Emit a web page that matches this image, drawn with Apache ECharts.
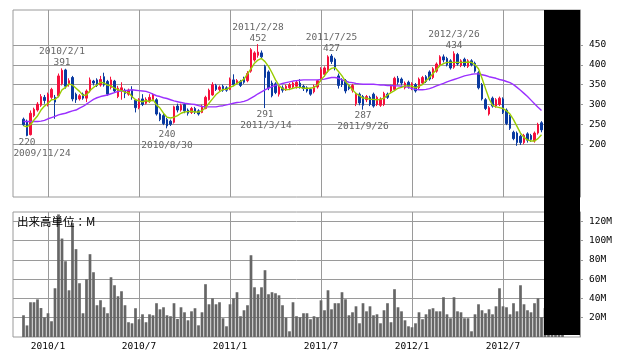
<!DOCTYPE html>
<html><head><meta charset="utf-8">
<script src="https://cdn.jsdelivr.net/npm/echarts@6/dist/echarts.min.js"></script>
<style>html,body{margin:0;padding:0;background:#fff}#c{width:638px;height:362px}</style>
</head><body><div id="c"></div>
<script>
// ---- weekly categories ----
const firstWeekUTC = Date.UTC(2009, 9, 26); // week of 2009/10/26
const weekCount = 163;                      // through week of 2012/12/3
const dataStart = 3;                        // first candle: week of 2009/11/16

// ---- weekly OHLC (index dataStart .. ) ----
const open = [
 263,258,224,272,286,298,318,300,318,318,
 322,352,387,352,368,326,314,326,316,334,
 359,362,349,370,358,343,359,320,336,336,
 326,336,311,292,314,303,310,312,312,276,
 272,262,258,255,296,286,300,286,280,290,
 284,280,290,312,324,348,338,346,342,338,
 362,354,358,366,360,384,412,424,430,396,
 382,354,352,326,342,340,342,344,346,354,
 346,342,338,332,344,362,376,384,422,414,
 372,362,360,348,336,302,326,320,312,318,
 326,300,298,300,326,334,338,366,364,342,
 356,342,350,342,354,370,382,368,384,400,
 420,416,410,394,426,398,414,396,410,404,
 380,350,312,276,316,296,300,314,286,270,
 230,228,220,204,226,222,208,228,254];
const close = [
 249,222,278,288,301,320,310,326,338,306,
 372,386,346,360,314,312,322,316,334,362,
 354,348,363,349,326,362,334,341,342,328,
 336,318,292,312,300,313,318,324,276,262,
 252,246,250,294,286,298,284,278,290,282,
 276,296,318,336,350,338,344,336,336,364,
 350,360,348,356,378,438,430,432,420,368,
 342,322,330,344,336,346,350,354,356,344,
 340,334,326,346,360,388,392,420,408,392,
 348,350,334,340,348,326,304,298,320,300,
 296,318,314,328,318,346,366,356,354,354,
 346,352,334,364,368,358,364,390,402,420,
 412,400,392,428,402,410,398,410,400,384,
 342,314,290,292,296,312,316,280,252,240,
 214,204,204,222,210,212,228,250,236];
const low = [
 246,220,222,268,282,294,302,295,314,264,
 318,348,340,345,308,304,310,312,306,330,
 348,344,345,345,322,338,330,316,312,316,
 322,312,280,288,296,300,304,308,272,258,
 248,240,246,252,280,282,278,272,276,276,
 272,278,288,310,322,334,334,332,332,336,
 346,350,344,352,356,380,408,418,414,291,
 336,318,326,320,330,334,336,340,340,340,
 334,330,322,328,340,358,370,380,402,386,
 340,344,328,336,330,296,298,287,306,296,
 292,296,294,296,314,330,334,350,348,338,
 340,336,330,338,350,354,360,364,380,396,
 406,396,388,390,398,394,394,392,396,380,
 338,310,286,272,292,292,296,276,248,236,
 210,196,198,200,204,206,204,224,230];
const high = [
 267,262,285,292,306,326,324,330,342,324,
 378,391,390,366,372,330,326,330,338,368,
 362,366,372,380,362,370,362,347,356,340,
 340,346,314,316,326,318,326,328,316,280,
 276,266,262,297,302,302,304,290,294,294,
 288,300,322,340,356,352,348,350,346,368,
 376,364,362,370,384,442,434,452,436,400,
 386,360,356,348,348,350,354,358,360,364,
 350,346,342,350,362,394,396,424,427,418,
 378,366,364,352,352,330,330,324,324,322,
 330,322,318,332,330,350,370,372,368,358,
 360,356,354,368,372,374,386,394,406,424,
 426,420,414,434,430,414,418,414,414,408,
 384,354,316,296,320,316,320,318,290,274,
 234,232,224,226,230,226,232,254,258];

// ---- moving averages ----
const ma13 = [
 246,244,249,261,271,286,296,303,312,313,
 320,337,343,352,349,341,333,323,324,335,
 343,349,356,354,349,347,341,337,335,331,
 330,320,312,309,307,310,307,312,299,291,
 278,268,266,268,272,278,281,282,283,281,
 281,284,292,303,314,325,332,338,338,343,
 347,353,358,364,377,390,404,412,416,408,
 396,380,362,348,340,337,338,341,343,343,
 341,341,341,343,349,362,372,385,391,393,
 383,372,358,347,337,328,322,316,316,313,
 313,312,313,316,324,330,335,341,343,347,
 347,346,342,346,350,360,368,378,388,398,
 403,406,406,406,406,406,406,407,406,400,
 390,366,340,315,298,294,292,290,284,276,
 262,245,228,217,211,208,208,214,224];
const ma26 = [
 257,257,257,257,257,258,260,264,267,270,
 274,276,278,281,284,286,291,295,301,307,
 313,317,320,322,324,327,330,333,334,335,
 336,337,336,335,334,333,330,326,322,320,
 317,315,312,309,307,305,303,302,301,300,
 297,295,294,294,294,294,296,297,299,301,
 303,305,306,308,311,316,321,327,332,337,
 341,345,348,350,353,355,357,359,360,361,
 362,362,362,362,362,363,364,366,368,368,
 366,362,359,356,355,353,352,351,351,351,
 351,350,349,349,348,348,347,347,346,345,
 343,340,338,337,337,338,340,343,347,350,
 353,357,360,363,366,369,372,374,376,377,
 377,375,373,370,368,366,363,361,358,355,
 350,343,336,328,320,311,302,293,285];

// ---- volume (millions) ----
const volume = [
 22.5,12,36,36,39,30,20.4,24.6,16.3,50.5,
 127,102,78.5,48.4,118,91,55.7,24.6,59.8,85.8,
 67.1,32.9,38.1,30.8,24.6,61.9,53.6,42.2,47.4,32.9,
 15.3,14.2,29.8,18.4,23.5,15.3,23.5,22.5,35,28.7,
 30.8,22.5,21.5,35,18.7,30.8,25.6,17.3,26.6,29.8,
 12.1,25.6,54.7,33.9,40.1,33.9,36,19.4,11.1,33.9,
 40.1,46.4,21.5,27.7,32.9,84.7,51.5,44.3,51.5,69.2,
 44.3,46.4,45.3,43.2,32.9,20.1,5.9,36,21.5,20.4,
 24.6,24.6,18.4,21.5,20.4,38,27.7,48.4,28.7,35,
 35,46.4,39.1,22.5,25.6,31.8,14.2,35,26.6,31.8,
 22.5,23.5,14.2,27.7,35,15.3,49.5,30.8,26.6,17.3,
 11.1,10.1,14.2,25.6,18.4,23.5,28.7,29.8,26.6,26.6,
 41.2,23.5,19.4,41.2,26.6,25.6,19.4,19.4,5.9,23.5,
 33.9,27.7,24.6,28.7,23.5,31.8,50.5,31.8,30.8,23.5,
 35,26.6,53.6,33.9,27.7,25.6,35,40.1,20.4,
 30,25,28,22,26,24];

// ---- ticks ----
const xTickWeeks  = ['2010/1/4','2010/7/5','2011/1/3','2011/7/4','2012/1/2','2012/7/2'];
const xTickLabels = ['2010/1','2010/7','2011/1','2011/7','2012/1','2012/7'];
const priceTicks  = [200,250,300,350,400,450];
const volumeTicks = [20,40,60,80,100,120];

// ---- high/low annotations ----
const notes = [
  {week:'2009/11/23', value:220, text:'2009/11/24', side:'low',  dx:15},
  {week:'2010/2/1',   value:391, text:'2010/2/1',   side:'high', dx:0},
  {week:'2010/8/30',  value:240, text:'2010/8/30',  side:'low',  dx:0},
  {week:'2011/2/28',  value:452, text:'2011/2/28',  side:'high', dx:0},
  {week:'2011/3/14',  value:291, text:'2011/3/14',  side:'low',  dx:1},
  {week:'2011/7/25',  value:427, text:'2011/7/25',  side:'high', dx:0},
  {week:'2011/9/26',  value:287, text:'2011/9/26',  side:'low',  dx:0},
  {week:'2012/3/26',  value:434, text:'2012/3/26',  side:'high', dx:0}
];

// ---- build ----
const categories = [];
for (let k = 0; k < weekCount; k++) {
  const d = new Date(firstWeekUTC + k * 7 * 86400000);
  categories.push(d.getUTCFullYear() + '/' + (d.getUTCMonth() + 1) + '/' + d.getUTCDate());
}
function pad(arr) {
  return categories.map((c, k) => {
    const j = k - dataStart;
    return (j >= 0 && j < arr.length) ? arr[j] : '-';
  });
}
const candleData = categories.map((c, k) => {
  const j = k - dataStart;
  return (j >= 0 && j < open.length) ? [open[j], close[j], low[j], high[j]] : ['-','-','-','-'];
});

const FONT = 'DejaVu Sans Mono';
const GRID_C = '#9a9a9a';
const isTick = (idx, val) => xTickWeeks.indexOf(val) >= 0;

const markData = [];
notes.forEach(n => {
  const s = n.side === 'high' ? -1 : 1;
  markData.push({coord:[n.week, n.value], label:{formatter:String(n.value), offset:[0, s*6]}});
  markData.push({coord:[n.week, n.value], label:{formatter:n.text, offset:[n.dx, s*17]}});
});

const chart = echarts.init(document.getElementById('c'), null, {renderer:'canvas'});
chart.setOption({
  animation:false,
  backgroundColor:'#fff',
  grid:[
    {left:13, top:10, width:567, height:187, show:true, borderColor:GRID_C, borderWidth:1},
    {left:13, top:212, width:567, height:125, show:true, borderColor:GRID_C, borderWidth:1}
  ],
  xAxis:[
    {type:'category', gridIndex:0, data:categories, boundaryGap:false,
     axisLine:{show:false}, axisTick:{show:false}, axisLabel:{show:false},
     splitLine:{show:true, interval:isTick, lineStyle:{color:GRID_C, width:1}}},
    {type:'category', gridIndex:1, data:categories, boundaryGap:false,
     axisLine:{show:false}, axisTick:{show:false},
     axisLabel:{show:true, interval:isTick, margin:5, color:'#000', fontFamily:FONT, fontSize:9.5,
       formatter:(v) => xTickLabels[xTickWeeks.indexOf(v)]},
     splitLine:{show:true, interval:isTick, lineStyle:{color:GRID_C, width:1}}}
  ],
  yAxis:[
    {type:'value', gridIndex:0, position:'right', min:67, max:538, scale:true,
     axisLine:{show:true, lineStyle:{color:GRID_C}},
     axisTick:{show:true, length:3, customValues:priceTicks, lineStyle:{color:GRID_C}},
     axisLabel:{show:true, customValues:priceTicks, margin:9, color:'#000', fontFamily:FONT, fontSize:9.5},
     splitLine:{show:true, lineStyle:{color:GRID_C, width:1}}},
    {type:'value', gridIndex:1, position:'right', min:0, max:129.5,
     axisLine:{show:true, lineStyle:{color:GRID_C}},
     axisTick:{show:true, length:3, customValues:volumeTicks, lineStyle:{color:GRID_C}},
     axisLabel:{show:true, customValues:volumeTicks, margin:9, color:'#000', fontFamily:FONT, fontSize:9.5,
       formatter:(v) => v + 'M'},
     splitLine:{show:true, lineStyle:{color:GRID_C, width:1}}}
  ],
  series:[
    {type:'candlestick', xAxisIndex:0, yAxisIndex:0, data:candleData, barWidth:2.4,
     itemStyle:{color:'#f5103c', color0:'#0a3aa0', borderColor:'#f5103c', borderColor0:'#0a3aa0', borderWidth:1},
     markPoint:{symbol:'circle', symbolSize:1, itemStyle:{color:'rgba(0,0,0,0)'}, silent:true,
       label:{show:true, position:'inside', color:'#666', fontFamily:FONT, fontSize:9.5},
       data:markData}},
    {type:'line', xAxisIndex:0, yAxisIndex:0, data:pad(ma26), symbol:'none',
     lineStyle:{color:'#9b30ff', width:1.4}},
    {type:'line', xAxisIndex:0, yAxisIndex:0, data:pad(ma13), symbol:'none',
     lineStyle:{color:'#99cc00', width:1.4}},
    {type:'bar', xAxisIndex:1, yAxisIndex:1, data:pad(volume), barWidth:2.7,
     itemStyle:{color:'#666666'}}
  ],
  graphic:[
    {type:'rect', shape:{x:544, y:10, width:36, height:325}, style:{fill:'#000'}, z:100},
    {type:'text', x:17, y:222, style:{text:'出来高単位：M', fontFamily:'Noto Sans CJK JP', fontSize:11.5,
      fill:'#000', verticalAlign:'middle'}, z:50}
  ]
});
</script>
</body></html>
